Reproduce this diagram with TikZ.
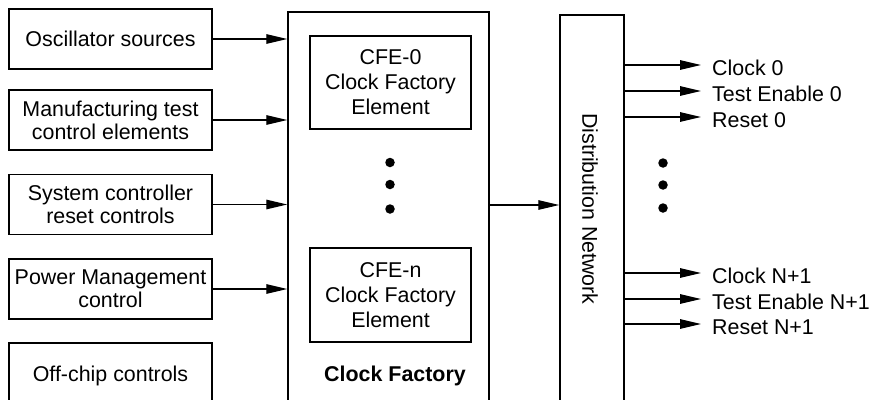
\documentclass[tikz,border=0pt]{standalone}
\usepackage{fontspec}
\setmainfont{Liberation Sans}
\usetikzlibrary{arrows.meta}
\begin{document}
\begin{tikzpicture}[x=1pt,y=-1pt,
  txt/.style={font=\fontsize{21.4}{23}\selectfont},
  box/.style={draw,line width=1.5pt,inner sep=0pt,align=center,txt},
  lbox/.style={box,minimum width=203pt,minimum height=60pt},
  cfe/.style={box,minimum width=161pt,minimum height=93pt,font=\fontsize{21.4}{25}\selectfont},
  arr/.style={line width=1.3pt,-{Triangle[length=21pt,width=9.5pt]}},
  lbl/.style={txt,inner sep=0pt,anchor=base west},
  dotn/.style={circle,fill,inner sep=0pt,minimum size=9.5pt}]
\useasboundingbox (0,0) rectangle (875,399);
\clip (0,0) rectangle (875,399);

% left input boxes
\node[lbox] (osc) at (110.5,39) {Oscillator sources};
\node[lbox] (mfg) at (110.5,120) {Manufacturing test\\control elements};
\node[lbox] (sys) at (110.5,204.5) {System controller\\reset controls};
\node[lbox] (pwr) at (110.5,289) {Power Management\\control};
\node[lbox,minimum height=66pt] (off) at (110.5,376) {Off-chip controls};

% clock factory
\node[box,minimum width=201pt,minimum height=408pt] (cf) at (388.5,216) {};
\node[cfe] (cfe0) at (390.5,82.5) {CFE-0\\Clock Factory\\Element};
\node[cfe,minimum height=94pt] (cfen) at (390.5,295) {CFE-n\\Clock Factory\\Element};
\node[txt,font=\fontsize{21.4}{23}\selectfont\bfseries,inner sep=0pt] (cfl) at (395,376) {Clock Factory};
\node[dotn] (cd1) at (390,162.5) {};
\node[dotn] (cd2) at (390,184.5) {};
\node[dotn] (cd3) at (390,209) {};

% distribution network
\node[box,minimum width=64pt,minimum height=405pt] (dn) at (592,217.5) {};
\node[txt,rotate=-90,inner sep=0pt] (dnl) at (590,209) {Distribution Network};

% inputs
\draw[arr] (osc.east) -- (osc.east -| cf.west);
\draw[arr] (mfg.east) -- (mfg.east -| cf.west);
\draw[arr] (sys.east) -- (sys.east -| cf.west);
\draw[arr] (pwr.east) -- (pwr.east -| cf.west);

% factory to network
\coordinate (mid) at (0,205);
\draw[arr] (cf.east |- mid) -- (dn.west |- mid);

% outputs
\node[lbl] (c0) at (712,75) {Clock 0};
\node[lbl] (t0) at (712,101) {Test Enable 0};
\node[lbl] (r0) at (712,127) {Reset 0};
\node[lbl] (cn) at (712,283) {Clock N+1};
\node[lbl] (tn) at (712,309) {Test Enable N+1};
\node[lbl] (rn) at (712,334) {Reset N+1};
\foreach \n in {c0,t0,r0,cn,tn,rn}{
  \coordinate (a\n) at ([yshift=10pt]\n.base west);
  \draw[arr] (dn.east |- a\n) -- ([xshift=-11pt]a\n);
}
\node[dotn] (od1) at (663,163) {};
\node[dotn] (od2) at (663,185) {};
\node[dotn] (od3) at (663,208) {};
\end{tikzpicture}
\end{document}
